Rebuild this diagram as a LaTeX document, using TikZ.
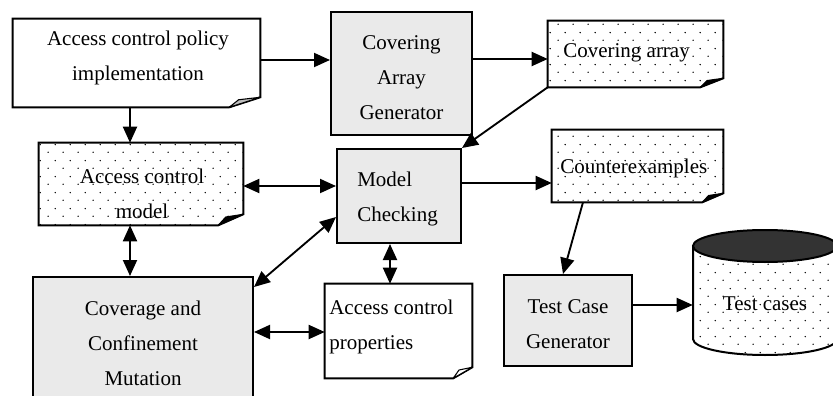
\documentclass[tikz,border=0pt]{standalone}
\usepackage{fontspec}
\setmainfont{Liberation Serif}
\usetikzlibrary{arrows.meta, patterns.meta}

\definecolor{procgray}{HTML}{EAEAEA}
\definecolor{flapgray}{HTML}{BDBDBD}
\definecolor{cyltop}{HTML}{333333}

% staggered fine dot fill used for data items
\tikzdeclarepattern{
  name=sparsedots,
  type=uncolored,
  bounding box={(0pt,0pt) and (11.25pt,12pt)},
  tile size={(11.25pt,12pt)},
  code={
    \fill (2.5pt,3pt) circle (0.62pt);
    \fill (8.125pt,9pt) circle (0.62pt);
  }
}

% page with a folded bottom-right corner:
% #1 node, #2 body fill, #3 flap colour, #4 fold width, #5 fold height
\newcommand\foldedpage[5]{%
  \path[#2] (#1.north west) -- (#1.north east) -- ([yshift=#5]#1.south east)
    -- ([xshift=-#4]#1.south east) -- (#1.south west) -- cycle;
  \draw[docedge] (#1.north west) -- (#1.north east) -- ([yshift=#5]#1.south east)
    -- ([xshift=-#4]#1.south east) -- (#1.south west) -- cycle;
  \filldraw[flap, fill=#3] ([xshift=-#4]#1.south east)
    -- ([xshift=-0.7*#4, yshift=0.75*#5]#1.south east)
    -- ([yshift=#5]#1.south east) -- cycle;
}

\begin{document}
\begin{tikzpicture}[x=0.75pt, y=-0.75pt,
  font=\fontsize{15.75}{26.25}\selectfont,
  arr/.style={line width=1.4pt, -{Triangle[length=12pt,width=10.5pt]}},
  darr/.style={line width=1.4pt, {Triangle[length=12pt,width=10.5pt]}-{Triangle[length=12pt,width=10.5pt]}},
  procbox/.style={draw, line width=1.5pt, fill=procgray, inner sep=0pt},
  docframe/.style={inner sep=0pt},
  docedge/.style={line width=1.5pt, line join=miter},
  flap/.style={line width=0.8pt, line join=round},
  txt/.style={inner sep=0pt, align=center}]

\clip (0,0) rectangle (833,396);

% item frames
\node[docframe, minimum width=185.25pt, minimum height=66pt] (impl) at (136.5,63) {};
\node[procbox, minimum width=105.75pt, minimum height=92.25pt] (cag) at (401.5,73.5) {};
\node[docframe, minimum width=131.25pt, minimum height=49.5pt] (carr) at (635.5,54) {};
\node[docframe, minimum width=153pt, minimum height=61.5pt] (acm) at (141,184) {};
\node[procbox, minimum width=93pt, minimum height=70.5pt] (mc) at (399,196) {};
\node[docframe, minimum width=128.25pt, minimum height=54pt] (cex) at (637.5,166) {};
\node[procbox, minimum width=96pt, minimum height=68.25pt] (tcg) at (568,320.5) {};
\node[docframe, minimum width=110.25pt, minimum height=70.5pt] (props) at (398.5,331) {};
\node[procbox, minimum width=165pt, minimum height=109.5pt] (ccm) at (143,350) {};
\node[docframe, minimum width=108pt, minimum height=93.75pt] (tcases) at (765,292.5) {};

% documents
\foldedpage{impl}{fill=white}{flapgray}{23.25pt}{7.5pt}
\foldedpage{carr}{pattern=sparsedots}{black}{17.25pt}{6.75pt}
\foldedpage{acm}{pattern=sparsedots}{black}{18.75pt}{8.25pt}
\foldedpage{cex}{pattern=sparsedots}{black}{15.75pt}{6.75pt}
\foldedpage{props}{fill=white}{white}{14.25pt}{8.25pt}

% test case store
\path[pattern=sparsedots] (693,246) -- (693,339)
  arc[start angle=180, end angle=360, x radius=54pt, y radius=12pt] -- (837,246) -- cycle;
\draw[docedge] (693,246) -- (693,339)
  arc[start angle=180, end angle=360, x radius=54pt, y radius=12pt] -- (837,246);
\filldraw[docedge, fill=cyltop] (765,246) ellipse [x radius=54pt, y radius=12pt];

% labels
\node[txt] (impl-t) at (138,57.5) {Access control policy\\implementation};
\node[txt] (cag-t) at (401.5,78) {Covering\\Array\\Generator};
\node[txt, anchor=west] (carr-t) at (563,53) {Covering array};
\node[txt] (acm-t) at (142,193.5) {Access control\\model};
\node[txt, anchor=west, align=left] (mc-t) at (357,198.5) {Model\\Checking};
\node[txt, anchor=west] (cex-t) at (560,168) {Counterexamples};
\node[txt] (tcg-t) at (568,324) {Test Case\\Generator};
\node[txt] (tcases-t) at (765,304) {Test cases};
\node[txt, anchor=west, align=left] (props-t) at (329,326.5) {Access control\\properties};
\node[txt] (ccm-t) at (143,343) {Coverage and\\Confinement\\Mutation};

% flow
\draw[arr] (impl.east |- 0,60) -- (cag.west |- 0,60);
\draw[arr] (cag.east |- 0,59) -- (carr.west |- 0,59);
\draw[arr] (carr.south west) -- (mc.north east);
\draw[arr] (impl.south -| 130,0) -- (acm.north -| 130,0);
\draw[darr] (acm.east |- 0,186) -- (mc.west |- 0,186);
\draw[arr] (mc.east |- 0,183) -- (cex.west |- 0,183);
\draw[arr] (cex.south -| 583,0) -- (tcg.north -| 563,0);
\draw[arr] (tcg.east |- 0,305) -- (tcases.west |- 0,305);
\draw[darr] (acm.south -| 130,0) -- (ccm.north -| 130,0);
\draw[darr] (mc.south -| 390,0) -- (props.north -| 390,0);
\draw[darr] (ccm.east |- 0,332) -- (props.west |- 0,332);
\draw[darr] (ccm.east |- 0,287) -- (mc.west |- 0,217);
\end{tikzpicture}
\end{document}
